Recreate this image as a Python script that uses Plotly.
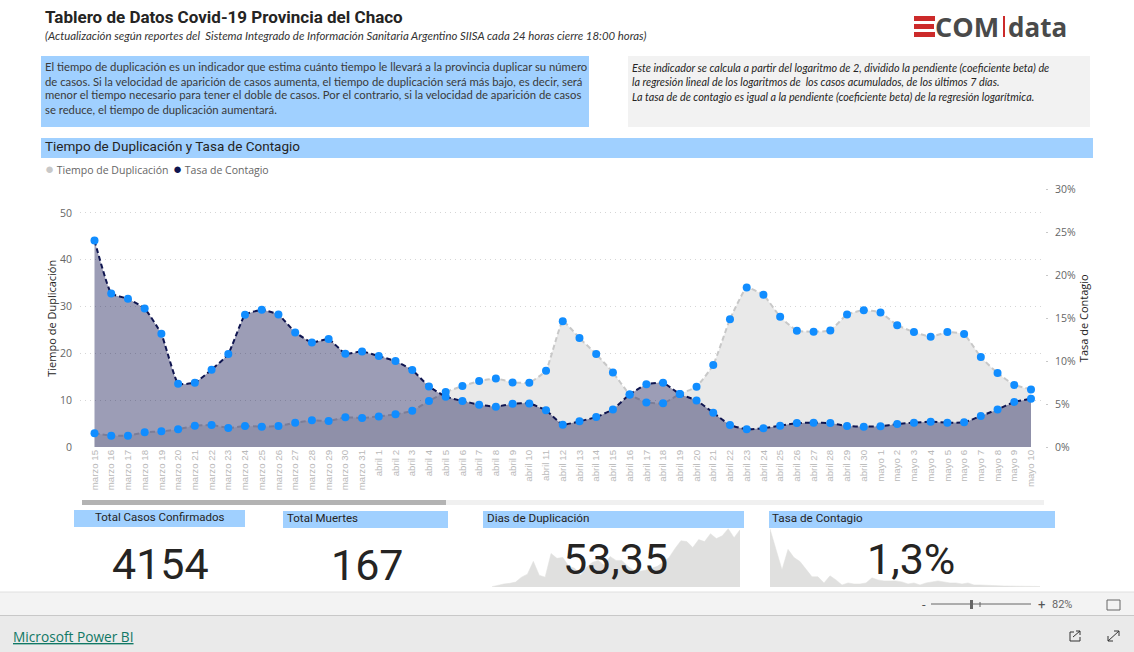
import plotly.graph_objects as go

fechas = ["marzo %d" % d for d in range(15, 32)] + ["abril %d" % d for d in range(1, 31)] + ["mayo %d" % d for d in range(1, 11)]

tiempo_duplicacion = [2.92, 2.42, 2.42, 3.13, 3.34, 3.77, 4.55, 4.69, 4.05, 4.48, 4.34, 4.48, 5.19, 5.69, 5.55, 6.33, 6.19,
                      6.54, 6.97, 7.75, 9.82, 11.74, 13.02, 14.08, 14.65, 13.80, 13.73, 16.29, 26.88, 23.26, 19.84, 15.93,
                      11.24, 9.53, 9.32, 11.31, 12.87, 17.50, 27.31, 34.07, 32.50, 27.81, 24.82, 24.61, 24.89, 28.31, 29.23,
                      28.73, 26.03, 24.54, 23.54, 24.54, 24.11, 19.20, 15.79, 13.23, 12.30]
tasa_contagio = [24.06, 17.89, 17.27, 16.14, 13.19, 7.37, 7.49, 9.00, 10.83, 15.41, 15.99, 15.44, 13.35, 12.18, 12.57, 10.87, 11.14,
                 10.59, 10.01, 8.96, 7.06, 5.86, 5.36, 4.93, 4.70, 5.04, 5.08, 4.27, 2.60, 2.99, 3.49, 4.38,
                 6.13, 7.30, 7.49, 6.17, 5.43, 4.00, 2.56, 2.06, 2.17, 2.48, 2.79, 2.83, 2.79, 2.44, 2.37,
                 2.41, 2.68, 2.83, 2.95, 2.83, 2.87, 3.61, 4.38, 5.24, 5.63]

spark_dias = [0.3, 1.8, 2.8, 3.4, 4.6, 9.2, 12, 23.9, 11, 9.2, 31.3, 26.7, 27.6, 19.3, 17.5, 11, 18.4, 23, 24.8, 20.2, 28.5, 24.8,
              24.8, 19.3, 15.6, 14.7, 15.6, 17.5, 19.3, 23, 27.6, 35.9, 43.2, 42.3, 36.8, 44.2, 42.3, 49.7, 45.1, 47.8, 54.3, 46, 53.35]
spark_tasa = [23.9, 15.9, 7.9, 15.9, 12.7, 11.1, 7.9, 5.1, 5.1, 2.7, 5.5, 3.9, 1.9, 2.7, 2.3, 2.3, 2.7, 4.7, 3.9, 3.5, 3.5, 3.5, 3.1,
              2.3, 2.7, 1.9, 2.7, 3.1, 3.5, 3.1, 2.7, 2.7, 2.3, 2.7, 1.9, 1.9, 1.7, 1.6, 1.6, 1.5, 1.5, 1.4, 1.4, 1.3, 1.3, 1.3]

ticks_tasa = [0, 5, 10, 15, 20, 25, 30]
ticks_tasa_txt = ["0%", "5%", "10%", "15%", "20%", "25%", "30%"]
ticks_tiempo = [0, 10, 20, 30, 40, 50]

W, H = 1134, 652
def X(p): return p / W
def Y(p): return 1 - p / H

BLUE = "#A0D0FF"; NAVY = "#0F1550"; GRAY = "#C8C8C8"; MARK = "#118DFF"
BODY = "Open Sans"; ITAL = "Lato"; DIN = "Roboto"

dash = "5px,3px"
smooth = 0.35
fig = go.Figure()
fig.add_trace(go.Scatter(x=fechas, y=tiempo_duplicacion, yaxis="y", mode="lines", name="Tiempo de Duplicación",
                         line=dict(color=GRAY, width=2, dash=dash, shape="spline", smoothing=smooth),
                         fill="tozeroy", fillcolor="#E9E9E9", showlegend=False))
fig.add_trace(go.Scatter(x=fechas, y=tasa_contagio, yaxis="y2", mode="lines", name="Tasa de Contagio",
                         line=dict(color=NAVY, width=2, dash=dash, shape="spline", smoothing=smooth),
                         fill="tozeroy", fillcolor="rgba(17,20,80,0.416)", showlegend=False))
fig.add_trace(go.Scatter(x=fechas, y=tiempo_duplicacion, yaxis="y3", mode="markers", marker=dict(color=MARK, size=8), showlegend=False))
fig.add_trace(go.Scatter(x=fechas, y=tasa_contagio, yaxis="y2", mode="markers", marker=dict(color=MARK, size=8), showlegend=False))
fig.add_trace(go.Scatter(x=list(range(len(spark_dias))), y=spark_dias, xaxis="x2", yaxis="y4", mode="lines",
                         line=dict(color="#E0E0DF", width=0.5), fill="tozeroy", fillcolor="#E0E0DF", showlegend=False))
fig.add_trace(go.Scatter(x=list(range(len(spark_tasa))), y=spark_tasa, xaxis="x3", yaxis="y5", mode="lines",
                         line=dict(color="#E0E0DF", width=0.5), fill="tozeroy", fillcolor="#E0E0DF", showlegend=False))

shapes = []
def rect(x0, y0, x1, y1, color):
    shapes.append(dict(type="rect", xref="paper", yref="paper", x0=X(x0), x1=X(x1), y0=Y(y0), y1=Y(y1),
                       fillcolor=color, line=dict(width=0), layer="below"))
def seg(x0, y0, x1, y1, color, w=1):
    shapes.append(dict(type="line", xref="paper", yref="paper", x0=X(x0), x1=X(x1), y0=Y(y0), y1=Y(y1),
                       line=dict(color=color, width=w)))

rect(41, 56, 589, 127, BLUE)
rect(628, 56, 1090, 127, "#F2F2F2")
rect(41, 138, 1093, 158, BLUE)
rect(82, 500, 1044, 505, "#F0F0F0")
rect(82, 500, 446, 505, "#B3B3B3")
rect(74, 510, 245, 527, BLUE)
rect(283, 511, 448, 528, BLUE)
rect(483, 511, 744, 528, BLUE)
rect(769, 511, 1055, 528, BLUE)
rect(0, 592, W, 615, "#F3F3F3")
rect(0, 616, W, H, "#EAEAEA")
seg(0, 592, W, 592, "#E0E0E0")
seg(0, 615.5, W, 615.5, "#C8C8C8")
# logo
rect(914, 16, 935, 21, "#CC2A2A")
rect(914, 24, 934, 29, "#CC2A2A")
rect(914, 32, 935, 37, "#CC2A2A")
rect(1003, 16, 1005, 37, "#CC2A2A")
# zoom control
seg(931, 604, 1031, 604, "#666666")
rect(970, 600, 973, 609, "#666666")
seg(980, 602, 980, 607, "#666666")
for a in [(1107, 600, 1120, 600), (1120, 600, 1120, 610), (1120, 610, 1107, 610), (1107, 610, 1107, 600)]:
    seg(*a, "#666666")
# share icon
for a in [(1070, 632, 1070, 641), (1070, 641, 1080, 641), (1080, 641, 1080, 637), (1070, 632, 1074, 632), (1073, 637, 1080, 631), (1076, 631, 1080, 631), (1080, 631, 1080, 635)]:
    seg(*a, "#333333")
# expand icon
for a in [(1108, 641, 1119, 631), (1114, 631, 1119, 631), (1119, 631, 1119, 636), (1108, 636, 1108, 641), (1108, 641, 1113, 641)]:
    seg(*a, "#333333")

ann = []
def txt(x, y, s, size, color="#252423", family=BODY, anchor="left"):
    ann.append(dict(xref="paper", yref="paper", x=X(x), y=Y(y), text=s, showarrow=False, xanchor=anchor, yanchor="middle",
                    font=dict(size=size, color=color, family=family), borderpad=0, borderwidth=0))

txt(45, 16.5, "<b>Tablero de Datos Covid-19 Provincia del Chaco</b>", 17, "#252423", DIN)
txt(45, 35, "<i>(Actualización según reportes del  Sistema Integrado de Información Sanitaria Argentino SIISA cada 24 horas cierre 18:00 horas)</i>", 11.4, "#333333", ITAL)
for y, s in zip([67, 81, 95, 109], [
    "El tiempo de duplicación es un indicador que estima cuánto tiempo le llevará a la provincia duplicar su número",
    "de casos. Si la velocidad de aparición de casos aumenta, el tiempo de duplicación será más bajo, es decir, será",
    "menor el tiempo necesario para tener el doble de casos. Por el contrario, si la velocidad de aparición de casos",
    "se reduce, el tiempo de duplicación aumentará."]):
    txt(45, y, s, 11.3, "#3A3A3A", ITAL)
for y, s in zip([68, 82, 96], [
    "Este indicador se calcula a partir del logaritmo de 2, dividido la pendiente (coeficiente beta) de",
    "la regresión lineal de los logaritmos de  los casos acumulados, de los últimos 7 días.",
    "La tasa de de contagio es igual a la pendiente (coeficiente beta) de la regresión logarítmica."]):
    txt(632, y, "<i>" + s + "</i>", 10.8, "#252423", ITAL)
txt(45, 146, "Tiempo de Duplicación y Tasa de Contagio", 13.5, "#252423", DIN)
txt(45, 168, '<span style="color:#C8C8C8;font-size:15px">●</span> Tiempo de Duplicación', 10.5, "#666666")
txt(173, 168, '<span style="color:#0F1550;font-size:15px">●</span> Tasa de Contagio', 10.5, "#666666")
txt(160, 517, "Total Casos Confirmados", 11.5, "#252423", DIN, "center")
txt(287, 518, "Total Muertes", 11.5, "#252423", DIN)
txt(487, 518, "Dias de Duplicación", 11.7, "#252423", DIN)
txt(772, 518, "Tasa de Contagio", 11.7, "#252423", DIN)
txt(160, 564, "4154", 43, "#252423", DIN, "center")
txt(367, 565, "167", 43, "#252423", DIN, "center")
txt(615, 559, "53,35", 43, "#252423", DIN, "center")
txt(911, 559, "1,3%", 43, "#252423", DIN, "center")
txt(13, 636, "<u>Microsoft Power BI</u>", 13.7, "#117865", BODY)
txt(924, 604, "-", 13, "#555555", DIN, "center")
txt(1041, 604, "+", 13, "#555555", DIN, "center")
txt(1062, 604.5, "82%", 11, "#666666", DIN, "center")
txt(935, 27, "<b>COM</b>", 27, "#4A4A4A", "Open Sans")
txt(1008, 27, "<b>data</b>", 26, "#4A4A4A", "Open Sans")

xdom = [X(80), X(1045)]
step = (1031 - 94.5) / 56
hidden = dict(visible=False, fixedrange=True)
fig.update_layout(
    width=W, height=H, autosize=False, margin=dict(l=0, r=0, t=0, b=0, autoexpand=False), paper_bgcolor="white", plot_bgcolor="rgba(0,0,0,0)",
    shapes=shapes, annotations=ann, showlegend=False,
    xaxis=dict(domain=xdom, anchor="y", type="category", categoryorder="array", categoryarray=fechas,
               range=[-(94.5 - 80) / step, 56 + (1045 - 1031) / step], tickmode="array", tickvals=fechas, ticktext=fechas,
               tickangle=-90, tickfont=dict(size=9.7, color="#B8B8B8", family="Liberation Sans"), showgrid=False, zeroline=False,
               showline=False, ticks=""),
    yaxis=dict(domain=[Y(447), Y(189.5)], range=[0, 55], tickvals=ticks_tiempo, gridcolor="#D6D6D6", griddash="1px,4px", gridwidth=1,
               zeroline=False, showline=False, ticks="", ticklabelstandoff=7, tickfont=dict(size=10.5, color="#666666", family=BODY),
               title=dict(text="Tiempo de Duplicación", font=dict(size=11, color="#252423", family=BODY), standoff=1)),
    yaxis2=dict(domain=[Y(447), Y(189.5)], range=[0, 30], overlaying="y", side="right", anchor="x", tickvals=ticks_tasa, ticktext=ticks_tasa_txt,
                showgrid=False, zeroline=False, showline=False, ticks="outside", ticklen=2, tickcolor="#C8C8C8", ticklabelstandoff=5,
                tickfont=dict(size=10.5, color="#666666", family=BODY),
                title=dict(text="Tasa de Contagio", font=dict(size=11, color="#252423", family=BODY), standoff=3)),
    yaxis3=dict(domain=[Y(447), Y(189.5)], range=[0, 55], overlaying="y", anchor="x", visible=False),
    xaxis2=dict(domain=[X(492), X(740)], anchor="y4", range=[0, 42], **hidden),
    yaxis4=dict(domain=[Y(587), Y(528)], anchor="x2", range=[0, 55], **hidden),
    xaxis3=dict(domain=[X(770), X(1040)], anchor="y5", range=[0, 45], **hidden),
    yaxis5=dict(domain=[Y(587), Y(528)], anchor="x3", range=[1.1, 24.3], **hidden),
)
fig.write_html("out.html", config=dict(displayModeBar=False),
               post_script="document.body.style.margin='0';document.documentElement.style.overflow='hidden';")
